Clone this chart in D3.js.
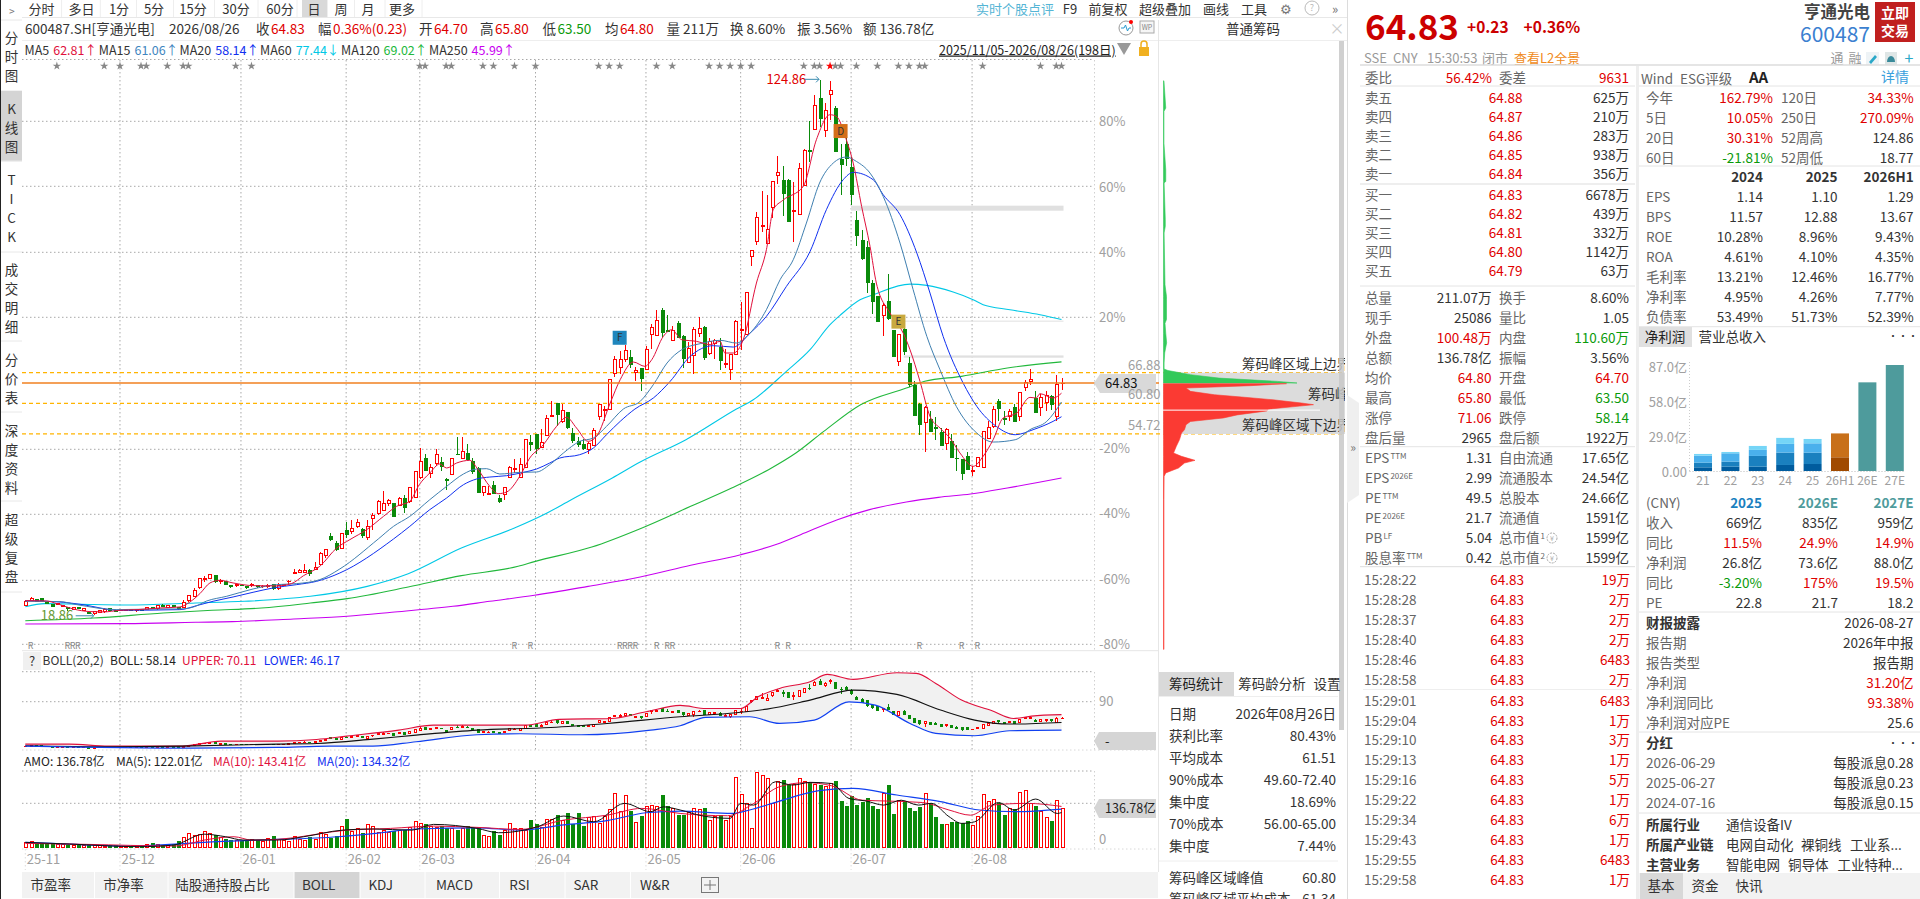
<!DOCTYPE html>
<html>
<head>
<meta charset="utf-8">
<title>600487.SH</title>
<script src="https://cdn.jsdelivr.net/npm/d3@7/dist/d3.min.js"></script>
<style>
  html, body { margin: 0; padding: 0; background: #fff; overflow: hidden; }
  text { font-family: "Noto Sans CJK SC", "Noto Sans", sans-serif; }
</style>
</head>
<body>
<svg id="chart" width="1920" height="899"></svg>
<script>
// daily bars, 2025/11/05 - 2026/08/26
var opens = [
  20.68,21.60,21.87,22.00,21.34,20.81,20.81,20.41,20.35,19.88,20.21,19.62,19.29,19.02,19.29,19.49,20.01,19.75,19.65,19.75,
  19.95,19.75,19.82,19.88,20.28,20.01,20.74,20.35,20.68,20.28,20.21,21.67,22.46,24.18,25.83,26.03,26.62,25.50,25.50,24.71,
  24.64,24.71,24.38,24.64,24.71,24.38,24.51,24.77,24.05,24.77,25.37,27.09,27.22,27.29,27.68,27.82,28.81,30.59,34.30,32.97,
  32.10,35.54,35.28,36.40,35.74,34.09,37.99,38.91,39.57,40.90,40.90,40.56,42.02,41.23,42.22,45.99,49.95,46.98,48.83,49.16,
  45.66,46.71,50.74,49.89,50.94,49.29,47.97,43.14,42.75,44.47,41.89,42.81,46.12,47.70,46.12,48.17,53.12,54.58,52.00,54.51,
  58.15,60.73,57.16,59.07,54.91,53.32,52.66,51.60,52.53,58.21,59.47,59.67,66.81,68.00,69.58,69.85,66.94,67.67,67.60,74.48,
  74.28,79.17,75.34,73.35,76.72,74.08,68.92,70.31,74.67,75.86,70.71,72.63,71.90,68.46,67.60,70.44,75.27,74.54,89.94,92.92,
  95.89,92.52,99.66,106.01,104.95,104.95,98.87,98.21,104.02,110.90,115.13,121.21,115.00,122.07,119.36,109.11,112.09,107.65,97.01,93.05,
  91.66,84.65,82.01,78.24,80.95,75.20,69.12,75.53,68.65,64.36,60.52,57.02,57.55,56.10,55.04,52.86,53.25,49.95,49.62,50.28,
  47.37,48.30,48.16,53.91,56.23,61.12,57.88,58.28,60.06,58.21,64.03,65.08,61.85,60.00,60.99,62.18,58.21,64.70];
var highs = [
  21.87,22.40,22.06,22.26,21.47,20.87,21.20,20.81,20.41,20.28,20.35,20.15,19.42,19.50,19.88,20.15,20.08,19.82,19.88,19.95,
  20.01,19.95,19.88,20.41,20.48,20.68,20.94,20.87,20.74,20.41,21.87,22.86,24.18,26.03,26.49,26.96,26.82,25.96,25.63,24.84,
  25.04,24.84,24.51,25.17,24.84,24.71,24.91,24.91,25.17,25.04,25.77,28.01,28.01,29.00,28.01,29.27,31.25,31.78,35.10,33.43,
  35.00,37.19,37.72,37.85,36.07,37.72,39.05,41.56,43.41,41.89,41.03,42.22,42.68,44.20,47.31,51.93,50.81,48.76,51.74,50.22,
  45.99,49.95,54.18,54.12,52.79,49.95,48.17,44.40,44.33,45.32,42.68,44.20,48.43,49.75,49.95,53.79,54.58,54.71,55.77,58.48,
  61.32,60.73,60.73,59.07,55.83,54.12,53.72,53.19,55.90,60.73,60.33,65.62,70.25,71.17,72.43,71.44,68.00,67.80,72.23,76.59,
  79.37,79.70,78.38,76.06,77.05,74.41,72.89,75.93,77.91,76.06,73.75,73.62,73.75,71.57,70.44,77.38,80.82,82.87,91.20,98.73,
  102.97,102.17,104.88,109.91,107.92,105.35,104.68,108.45,111.23,116.71,122.00,124.86,120.35,124.78,119.82,112.29,113.74,109.64,98.86,95.09,
  92.91,85.31,82.14,80.68,86.50,75.40,74.40,77.38,69.98,65.15,60.85,60.33,59.33,58.08,55.90,55.90,54.77,52.59,49.75,51.07,
  48.43,50.15,55.17,57.22,60.33,61.65,59.20,59.66,60.66,63.04,65.48,67.66,63.30,62.71,63.17,62.51,66.47,65.80];
var lows = [
  20.60,21.53,21.47,21.53,20.94,20.35,20.74,20.35,19.55,19.75,19.95,19.55,18.95,18.86,19.16,19.22,19.49,19.49,19.55,19.60,
  19.62,19.42,19.68,19.82,19.95,19.88,20.35,20.28,20.35,19.88,20.15,21.40,22.39,23.98,25.44,25.96,25.17,25.04,24.71,24.25,
  24.31,24.51,24.05,24.38,24.25,24.11,24.25,23.72,23.85,24.51,25.04,26.96,27.09,27.29,26.49,27.68,28.68,30.13,33.50,31.45,
  32.00,34.09,34.95,36.07,34.09,33.76,35.74,38.71,39.38,40.37,38.38,40.37,39.05,41.03,42.02,45.85,47.31,45.99,48.30,47.31,
  43.54,46.65,50.61,49.75,49.49,46.78,43.01,42.35,42.75,42.75,41.03,41.56,45.99,46.98,45.99,47.97,51.27,50.81,51.93,54.25,
  58.08,56.36,56.89,55.70,52.93,52.13,51.60,50.81,52.46,57.42,57.22,59.54,65.95,66.67,68.92,67.73,65.29,63.17,67.47,71.57,
  74.21,73.88,74.94,73.29,73.68,67.80,68.79,66.61,73.88,69.32,70.44,69.58,67.47,67.80,65.49,70.44,71.44,74.41,88.09,92.26,
  94.77,92.39,97.61,104.35,97.88,96.82,92.85,98.07,103.82,108.72,115.06,115.59,113.54,117.05,110.70,102.17,107.92,100.18,92.05,89.28,
  82.67,78.57,76.85,74.07,77.38,69.98,68.26,70.44,64.03,58.34,54.57,51.07,55.17,53.58,52.39,51.47,49.95,47.30,45.65,47.63,
  46.31,48.30,48.10,53.78,55.90,57.22,56.56,57.22,57.09,57.35,63.17,64.49,58.87,58.21,59.20,59.53,57.22,63.50];
var closes = [
  21.40,22.06,21.53,21.60,21.00,20.48,21.07,20.68,20.08,20.21,20.08,20.01,19.05,19.42,19.75,19.88,19.75,19.55,19.75,19.82,
  19.68,19.85,19.75,20.35,20.08,20.61,20.48,20.74,20.41,20.01,21.20,22.59,23.65,25.96,25.96,26.82,25.44,25.63,24.77,24.51,
  24.77,24.64,24.25,24.84,24.51,24.51,24.64,24.05,24.64,24.84,25.50,27.15,27.68,27.68,26.96,28.21,30.99,31.71,33.80,31.78,
  34.90,34.75,36.07,37.26,34.55,36.40,38.52,41.42,40.90,41.56,38.38,42.02,40.10,44.20,47.31,49.36,47.44,48.10,50.74,48.30,
  45.52,49.82,50.68,51.27,49.62,47.31,43.14,44.40,43.01,42.94,41.36,44.20,48.03,47.84,48.76,53.72,52.66,51.93,53.12,57.88,
  58.48,58.54,59.34,55.97,53.45,52.66,51.80,52.93,55.50,60.66,59.67,65.62,69.45,69.45,71.24,68.40,67.27,65.82,71.57,75.80,
  77.19,74.81,75.07,75.34,73.82,69.72,71.70,75.40,75.60,69.85,73.09,73.35,69.32,68.66,70.44,76.99,75.40,82.87,91.20,97.74,
  96.09,95.36,104.88,106.67,102.37,96.88,99.13,107.33,110.90,110.77,119.95,117.31,118.90,122.93,110.77,108.19,109.38,102.17,94.04,89.48,
  84.72,81.02,77.05,80.16,77.58,70.04,74.40,71.10,64.49,58.34,56.56,59.93,55.24,55.83,52.46,55.63,50.01,49.88,46.97,47.63,
  47.57,50.15,55.17,56.10,59.53,59.80,57.68,59.20,57.22,63.04,65.02,65.48,59.00,61.98,62.31,60.52,64.60,64.83];
// turnover in 100M CNY
var amounts = [
  18.5,20.8,15,15,12.7,12.7,11.6,11.6,9.3,9.3,12.7,9.3,6.9,9.3,6.9,5.8,9.3,6.9,5.8,3.5,
  3.5,9.3,5.8,10.4,15,12.7,6.9,6.9,12.7,23,36,50,44,46,55.5,50,44,36,29,26.6,
  26.6,23,20.8,30,24,23,32.4,38,29,26.6,20.8,38,29,26.6,37,30,54,47,32.4,38,
  73,99.5,55.5,65,50,79,75,52,61,52,55.5,59,61,69,90,84.5,82,75,69,73,
  67,67,61,67,73,67,69,42,40.5,55.5,44,59,84.5,67,67,61,96,79,70.6,98,
  98,113,96,119,82,119,73,104,108,84.5,110,134,189,125,183,125,87,108,142,146,
  142,183,142,136.5,111,113,123,136.5,131,136.5,96,108,113,96,108,244,186,154,65,261,
  252,241,154,229,235,217.5,221,241,229,226,221,217.5,212,223,231,162,142,179,148,157,
  171,142,131,189,217.5,117,165,160,136.5,127,139,189,154,105,79,82,89,87,84.5,90,
  76,108,186,162,168,154,113,136.5,131,192,197,154,142,125,104,92.5,165,136.78];

// moving averages read at sample bars
var ma5Idx = [0,4,6,9.1,12.3,14.8,18,21.2,25.6,29.4,31.3,33.2,35.1,37,39.5,43.3,47.8,50.6,52.9,56,59.2,61.7,64.9,68.1,70.6,73.1,74.9,76.9,78.8,80.1,82,84.5,86.1,88.3,89.9,91.5,94,95.9,98.5,101,102.9,104.8,107,108.6,111.2,113.1,115.6,117.8,119.1,121.3,122.9,124.8,127.6,130.2,132.1,133,134.6,136.5,139,140.9,142.2,144,147.9,150.4,153,154.2,156.1,157.4,159,160.6,161.8,164.4,166.9,168.2,170.1,172,173.9,175.8,177.7,180.2,182.1,184,185.9,188.5,191,192.2,192.9,195.4,197];
var ma5 = [21.67,21.6,21.07,20.01,19.49,19.42,19.75,19.88,20.21,20.41,21.4,23.06,25.17,25.7,25.17,24.64,24.58,25.04,26.62,28.48,32.11,33.76,35.74,38.38,40.37,41.36,44.66,46.98,48.76,47.97,48.96,49.49,47.64,44.33,42.88,43.21,46.32,49.95,52.6,56.23,58.02,55.9,53.26,54.25,60.86,65.49,68.99,68.13,69.45,74.08,75.4,73.42,73.09,72.43,73.09,70.78,70.78,73.42,84.66,91.27,99.2,101.05,103.82,113.08,118.04,117.71,113.07,108.45,99.85,91.92,84.65,78.7,74.73,71.43,65.15,58.21,55.9,53.91,50.94,48.3,50.28,53.58,57.88,58.87,61.98,61.85,62.71,61.85,62.81];
var ma15Idx = [0,6.6,9.8,17.4,25.6,29.4,32,34.5,38.3,43.3,47.8,51.6,56,59.8,67.1,70,73.1,76.9,80.1,83.3,85.8,87.7,90.2,94,97.2,99.7,102.3,105.4,108,110.5,113.7,116.9,119.4,122,124.8,128.3,132.1,135.2,137.8,140.9,143.5,146,148.5,151,153.6,156.1,158,160.6,163.1,166.3,168.8,171.4,173.9,177,180.9,184,188.2,191,194.2,197];
var ma15 = [21.54,21.47,20.87,19.88,20.01,20.01,20.41,21.6,22.53,23.98,24.84,25.04,25.83,27.95,33.89,36.4,38.38,41.69,44.33,46.78,47.77,47.84,46.78,47.11,47.18,48.63,50.94,53.26,53.92,56.23,59.67,61.19,64.5,68.79,71.44,72.63,73.29,72.76,74.74,79.37,85.32,89.28,96.55,104.49,108.45,109.64,108.78,106.46,101.84,92.58,83.33,74.07,67.46,60.19,54.9,53.12,53.58,55.57,57.22,61.06];
var ma20Idx = [0,7.2,10.4,18,29.4,32.6,35.7,39.5,43.3,47.1,51.6,55.4,59.8,70,73.1,76.9,80.1,83.3,85.8,88.3,91.5,94.7,97.2,99.7,101.6,105.4,108,110.5,113.1,115.9,119.4,122.6,126.4,130.8,134.6,137.8,140.9,144.7,149.2,152.3,155.5,157.4,161.2,163.1,166.3,169.5,172,174.5,178.3,180.9,184.6,188.2,191.6,195.4,197];
var ma20 = [21.67,21.34,20.94,19.75,19.88,20.68,21.54,22.39,23.32,24.18,24.84,25.5,27.15,33.89,36.4,39.71,42.02,44.66,45.79,46.18,46.45,47.11,47.77,48.96,49.95,50.61,51.93,54.58,57.22,59.67,61.85,65.16,70.11,72.23,71.96,74.74,78.05,83.99,90.93,99.2,105.15,106.6,105.14,102.17,98.2,90.6,82.67,74.07,64.82,60.19,56.23,54.57,55.57,57.22,58.14];
var ma60Idx = [0,3.7,10.7,19.2,32.4,41.7,54.2,65,72.8,82.9,93,99.2,103.8,111.6,116.9,125.6,135.2,138.4,144.7,149.2,153,154.9,158.7,161.2,168.2,171.4,176.4,180.2,182.1,187.2,192.9,197];
var ma60 = [20.47,21.07,20.93,20.8,21.2,21.53,22.52,24.5,27,32.1,36.07,39.05,41.69,46,49.16,53.59,59.67,61.52,67.14,71.44,76.39,78.24,81.35,82.34,84.45,84.19,82.87,81.35,80.35,79.36,78.37,77.44];
var ma120Idx = [0,13,26.2,35.5,44.9,54.2,61.2,72.8,82.9,93.7,96.8,107.7,116.9,126.5,134.3,141.3,146.5,151.8,158.8,167.5,171,178,186.7,197];
var ma120 = [17.69,18.22,19.22,19.75,20.21,21.2,22.06,24.37,26.62,28.47,29.4,32.3,35.94,40.37,44,47.64,50.94,55.24,60.53,63.83,65.16,66.15,67.8,69.02];
var ma250Idx = [0,19.2,32.4,39.4,51,61.2,69.7,81.3,88.3,96.8,107,116.9,126.5,136,143,147.4,154.4,160.5,167.5,173.6,179.7,186.7,197];
var ma250 = [17.03,17.1,17.37,17.5,18.03,18.56,19.35,20.54,21.53,22.72,24.5,26.35,28.67,30.78,32.9,34.75,37.72,39.71,41.23,42.15,42.81,44,45.99];

// BOLL(20,2)
var upperIdx = [0,8.4,15.8,29.8,37.2,48,55.4,61.1,71,77.6,89.2,95,101.5,111.4,118,124.5,129.4,136,139.3,143.4,149.2,152.5,157.4,165.7,169.4,173.1,178,183.8,187.9,191.3,197];
var upper = [24.7,24.7,21.6,21.6,29.3,29.3,31.9,37.05,46.3,54,54,54,62.8,64.3,74.6,84.4,79.7,79.7,97.8,110.6,120.9,132.2,124.5,134.8,133.8,118.3,92.6,76.1,64.3,67.9,70.11];
var midIdx = [0,15.8,29.8,48,55.4,66.1,74.3,85.9,99.9,110.6,124.5,135.2,141,149.2,157.4,165.7,174,180.5,187.1,197];
var mid = [22.1,20.6,21.6,24.7,25.7,32.4,38.6,46.3,50.4,56.6,66.9,73.1,78.7,92.6,108,101.4,77.2,61.7,55.6,58.14];
var lowerIdx = [0,31.5,48,57.8,66.1,74.3,85.9,94.1,105.7,118.9,124.5,129.4,137.7,143.4,150,156.6,161.6,168.2,173.1,180.5,187.1,197];
var lower = [21.6,18.5,19.6,21.6,21.6,28.3,39.1,40.7,39.1,46.3,53,65.9,66.9,56.6,61.7,90,84.9,56.6,41.2,37.6,45.3,46.17];

// AMO moving averages
var amoMa5Idx = [0,8.4,21.6,28.2,34,38.1,41.4,48,52.9,60.3,66.1,73.5,77.6,85.9,90,97.4,102.4,108.1,113.9,118.9,121.3,124.5,128.6,134,136,138.5,142.6,145.9,149.2,153.3,156.6,159.9,163.2,166.5,169.8,172.3,175.6,178,180.5,185,188,192.1,196.2,197];
var amoMa5 = [18.5,12.7,3.5,9.3,47,38,26.6,26.6,38,61,65,61,81,67,52,73,110,90,154,125,142,131,111,102,154,148,229,217.5,227,223,171,162,148,165,148,154,108,84.5,90,157,131,169,119,122.01];
var amoMa10Idx = [0,11.7,28.2,34.8,39.7,43,48,61.1,69.4,77.6,85.9,94.1,102.4,110.6,117.2,124.5,133.5,138.5,143.4,148.4,153.3,159.1,164,170.6,175.6,179.7,183.8,190.4,197];
var amoMa10 = [15,11.6,5.8,29,38,26.6,29,61,67,75,70.6,63.6,96,113,136.5,119,111,154,212,226,215,165,162,157,131,113,148,154,143.41];
var amoMa20Idx = [0,5.1,20,30.6,36.4,44.6,59.5,67.7,74.3,85.9,94.1,102.4,110.6,118,124.5,134.4,137.7,143.4,150.9,157.4,165.7,174,181.4,187.9,197];
var amoMa20 = [18.5,15,5.8,15,20.8,26.6,38,52,65,69,61,79,94,121.5,127,119,131,162,198,206,183,160,131,125,134.32];

// chip distribution: price level and relative weight
var chipUpPrices = [124.76,119.35,118.7,112.4,107.1,104.8,104.5,97.2,95.9,94.6,84.3,82,81.35,77.4,76.7,74.7,72.8,70.8,68.8,67.6,67.3,67,66.48,65.8,65.15,64.83];
var chipUpVals = [0.3,1.5,0.3,0.3,1.5,1.5,0.4,1.2,1.2,0.4,1,2,2,2,1,1.5,2.1,0.8,0.4,0.4,3,8.5,18,37,76,89];
var chipDownPrices = [64.7,64.3,63.83,63.17,62.5,62.05,61.5,60.86,60.53,60.2,59.74,59.6,59.3,58.5,57.9,57.2,56.56,55.57,54.9,53.6,52.26,50.94,50.28,49.49,48.96,47.97,47,46.3,41.7,23.8,12];
var chipDownVals = [82,58,15,18,34,52,73,92,100,89,73,70,69,49,40,18,15,14,12,10.7,8.5,6.7,12,21,14,10,1.5,0.4,0.3,0.3,0.3];

var monthIdx = [0,18,41,61,75,97,118,136,157,180];
var monthLabels = ['25-11','25-12','26-01','26-02','26-03','26-04','26-05','26-06','26-07','26-08'];
var pctTicks = [80,60,40,20,-20,-40,-60,-80];
var starIdx = [6,15,18,22,23,27,30,31,40,43,75,76,80,81,87,89,93,97,109,111,113,120,123,130,132,134,136,138,148,150,151,153,154,155,158,162,166,168,170,171,182,193,196,197];
var rIdx = [1,8,9,10,93,96,113,114,115,116,120,122,123,143,145,170,178,181];
var markLabels = ['F','D','E'];
var markIdx = [113,155,166];
var markPrices = [73.8,114.8,77];
var gapIdx = [157,167,167];
var gapTop = [100,77.2,70.3];
var gapBottom = [99,77,69.85];

var lastPrice = 64.83;
var chipPeaks = [66.88,60.80,54.72];
var chipPeakNames = ['筹码峰区域上边界','筹码峰区域峰值','筹码峰区域下边界'];

// top bar and side bar
var periodTabs = ['分时','多日','1分','5分','15分','30分','60分','日','周','月','更多'];
var toolTabs = ['实时个股点评','F9','前复权','超级叠加','画线','工具'];
var sideGroups = ['分时图','K线图','TICK','成交明细','分价表','深度资料','超级复盘'];
var bottomTabs = ['市盈率','市净率','陆股通持股占比','BOLL','KDJ','MACD','RSI','SAR','W&R'];
var quoteHead = [['600487.SH[亨通光电]',''],['2026/08/26',''],['收','64.83'],['幅','0.36%(0.23)'],['开','64.70'],['高','65.80'],['低','63.50'],['均','64.80'],['量 211万',''],['换 8.60%',''],['振 3.56%',''],['额 136.78亿','']];
var maHead = [['MA5','62.81↑'],['MA15','61.06↑'],['MA20','58.14↑'],['MA60','77.44↓'],['MA120','69.02↑'],['MA250','45.99↑']];

// chip stats
var chipStatLabels = ['日期','获利比率','平均成本','90%成本','集中度','70%成本','集中度'];
var chipStatValues = ['2026年08月26日','80.43%','61.51','49.60-72.40','18.69%','56.00-65.00','7.44%'];

// order book
var askLabels = ['卖五','卖四','卖三','卖二','卖一'];
var askPrices = ['64.88','64.87','64.86','64.85','64.84'];
var askVols = ['625万','210万','283万','938万','356万'];
var bidLabels = ['买一','买二','买三','买四','买五'];
var bidPrices = ['64.83','64.82','64.81','64.80','64.79'];
var bidVols = ['6678万','439万','332万','1142万','63万'];

var tradeLeftLabels = ['总量','现手','外盘','总额','均价','最高','涨停','盘后量'];
var tradeLeftValues = ['211.07万','25086','100.48万','136.78亿','64.80','65.80','71.06','2965'];
var tradeRightLabels = ['换手','量比','内盘','振幅','开盘','最低','跌停','盘后额'];
var tradeRightValues = ['8.60%','1.05','110.60万','3.56%','64.70','63.50','58.14','1922万'];

var valLabels = ['EPS','EPS','PE','PE','PB','股息率'];
var valSups = ['TTM','2026E','TTM','2026E','LF','TTM'];
var valValues = ['1.31','2.99','49.5','21.7','5.04','0.42'];
var capLabels = ['自由流通','流通股本','总股本','流通值','总市值','总市值'];
var capSups = ['','','','','1','2'];
var capValues = ['17.65亿','24.54亿','24.66亿','1591亿','1599亿','1599亿'];

var tickTimesA = ['15:28:22','15:28:28','15:28:37','15:28:40','15:28:46','15:28:58'];
var tickVolsA = ['19万','2万','2万','2万','6483','2万'];
var tickTimesB = ['15:29:01','15:29:04','15:29:10','15:29:13','15:29:16','15:29:22','15:29:34','15:29:43','15:29:55','15:29:58'];
var tickVolsB = ['6483','1万','3万','1万','5万','1万','6万','1万','6483','1万'];
var tickPrice = '64.83';

// returns
var retLabels = ['今年','5日','20日','60日'];
var retValues = ['162.79%','10.05%','30.31%','-21.81%'];
var ret2Labels = ['120日','250日','52周高','52周低'];
var ret2Values = ['34.33%','270.09%','124.86','18.77'];

var finYears = ['2024','2025','2026H1'];
var finLabels = ['EPS','BPS','ROE','ROA','毛利率','净利率','负债率'];
var fin2024 = ['1.14','11.57','10.28%','4.61%','13.21%','4.95%','53.49%'];
var fin2025 = ['1.10','12.88','8.96%','4.10%','12.46%','4.26%','51.73%'];
var fin2026 = ['1.29','13.67','9.43%','4.35%','16.77%','7.77%','52.39%'];

// net profit bars, stacked quarters in 100M CNY
var profitCats = ['21','22','23','24','25','26H1','26E','27E'];
var profitTicks = [0,29,58,87];
var profitQ1 = [3.05,3.6,3.6,5,5.8,11.4,73.6,88];
var profitQ2 = [3.9,4.2,8.9,10.3,9.4,19.8,0,0];
var profitQ3 = [5.8,6.9,5,7.2,7.8,0,0,0];
var profitQ4 = [1.4,1.1,3.3,5,3.6,0,0,0];

var fcYears = ['2025','2026E','2027E'];
var fcLabels = ['收入','同比','净利润','同比','PE'];
var fc2025 = ['669亿','11.5%','26.8亿','-3.20%','22.8'];
var fc2026 = ['835亿','24.9%','73.6亿','175%','21.7'];
var fc2027 = ['959亿','14.9%','88.0亿','19.5%','18.2'];

var reportLabels = ['报告期','报告类型','净利润','净利润同比','净利润对应PE'];
var reportValues = ['2026年中报','报告期','31.20亿','93.38%','25.6'];
var divDates = ['2026-06-29','2025-06-27','2024-07-16'];
var divValues = ['每股派息0.28','每股派息0.23','每股派息0.15'];
var industryLabels = ['所属行业','所属产业链','主营业务'];
var industryTags = [['通信设备IV'],['电网自动化','裸铜线','工业系...'],['智能电网','铜导体','工业特种...']];
var infoTabs = ['基本','资金','快讯'];

var RED = '#ff0000', GREEN = '#0a8a0a', TEXT_RED = '#e00000', TEXT_GREEN = '#0a9a0a';
var LABEL = '#666', VALUE = '#333', RULE = '#e4e4e4', GRID = '#a8a8a8';

var svg = d3.select('#chart');
var x = d3.scaleLinear().domain([0, 197]).range([25.3, 1061.5]);
var yPrice = d3.scaleLinear().domain([lastPrice * 0.2, lastPrice * 1.8]).range([644.5, 121.5]);
var yBoll = d3.scaleLinear().domain([15.6, 136.4]).range([750, 671.7]);
var yAmo = d3.scaleLinear().domain([0, 264]).range([847.7, 771.7]);

function txt(g, px, py, s, o) {
  o = o || {};
  return g.append('text')
    .attr('x', px).attr('y', py).attr('dy', '0.36em')
    .attr('text-anchor', o.anchor || 'start')
    .attr('font-size', o.size || 13.5)
    .attr('font-weight', o.weight || 'normal')
    .attr('fill', o.fill || VALUE)
    .text(s);
}

function rule(g, x1, x2, y1, y2, color, dash, w) {
  var l = g.append('line').attr('x1', x1).attr('x2', x2).attr('y1', y1).attr('y2', y2)
    .attr('stroke', color || RULE).attr('stroke-width', w || 1);
  if (dash) l.attr('stroke-dasharray', dash);
  return l;
}

function column(g, vals, px, y0, dy, o) {
  vals.forEach(function(v, i) {
    var fill = typeof o.fill === 'function' ? o.fill(v, i) : o.fill;
    txt(g, px, y0 + i * dy, v, {anchor: o.anchor, fill: fill, size: o.size, weight: o.weight});
  });
}

function signColor(v) {
  return v.charAt(0) === '-' ? TEXT_GREEN : TEXT_RED;
}

function seriesLine(g, idx, vals, yScale, color, w, curve) {
  var line = d3.line()
    .x(function(d, i) { return x(idx[i]); })
    .y(function(d) { return yScale(d); })
    .curve(curve || d3.curveMonotoneX);
  g.append('path').datum(vals).attr('d', line)
    .attr('fill', 'none').attr('stroke', color).attr('stroke-width', w || 1);
}

function drawCandles(g, yScale, bodyWidth) {
  var cols = d3.range(opens.length);
  g.selectAll('line.wick').data(cols).enter().append('line')
    .attr('class', 'wick')
    .attr('shape-rendering', 'crispEdges')
    .attr('x1', function(i) { return Math.round(x(i)) + 0.5; })
    .attr('x2', function(i) { return Math.round(x(i)) + 0.5; })
    .attr('y1', function(i) { return yScale(highs[i]); })
    .attr('y2', function(i) { return yScale(lows[i]); })
    .attr('stroke', function(i) { return closes[i] >= opens[i] ? RED : GREEN; });
  g.selectAll('rect.body').data(cols).enter().append('rect')
    .attr('class', 'body')
    .attr('shape-rendering', 'crispEdges')
    .attr('x', function(i) { return Math.round(x(i)) - 0.5; })
    .attr('width', bodyWidth)
    .attr('y', function(i) { return yScale(Math.max(opens[i], closes[i])); })
    .attr('height', function(i) { return Math.max(0.6, Math.abs(yScale(opens[i]) - yScale(closes[i]))); })
    .attr('fill', function(i) { return closes[i] >= opens[i] ? '#fff' : GREEN; })
    .attr('stroke', function(i) { return closes[i] >= opens[i] ? RED : GREEN; });
}

function drawFrame() {
  svg.append('rect').attr('width', 1920).attr('height', 899).attr('fill', '#fff');
  rule(svg, 0.5, 0.5, 0, 899, '#222');
  rule(svg, 1347.5, 1347.5, 0, 899, '#dcdcdc');
  rule(svg, 22, 1347, 17.5, 17.5, '#e8e8e8');
  rule(svg, 22, 1347, 40.5, 40.5, '#eee');
  rule(svg, 1158.5, 1158.5, 20, 872, '#e6e6e6');
}

function drawTopBar() {
  var g = svg.append('g');
  var centers = [41.6,81.6,119,154,193,236,280,314,341,368,402];
  var TAB_Y = 9.6;
  txt(g, 12, TAB_Y, '﹥', {anchor: 'middle', size: 13, fill: '#777'});
  g.append('rect').attr('x', 302).attr('y', 0).attr('width', 26).attr('height', 17).attr('fill', '#d9d9d9');
  periodTabs.forEach(function(t, i) {
    txt(g, centers[i], TAB_Y, t, {anchor: 'middle', size: 13, fill: '#333'});
    var edge = i < periodTabs.length - 1 ? (centers[i] + centers[i + 1]) / 2 : 422;
    rule(g, edge, edge, 0, 17, '#eee');
  });
  var toolX = [1015,1070,1108,1165,1216,1254];
  toolTabs.forEach(function(t, i) {
    txt(g, toolX[i], TAB_Y, t, {anchor: 'middle', size: 13, fill: i === 0 ? '#55b5d5' : '#333'});
  });
  txt(g, 1286, TAB_Y, '⚙', {anchor: 'middle', size: 13, fill: '#777'});
  g.append('circle').attr('cx', 1312).attr('cy', 8).attr('r', 7).attr('fill', 'none').attr('stroke', '#bbb');
  txt(g, 1312, 8, '?', {anchor: 'middle', size: 9, fill: '#bbb'});
  txt(g, 1335, TAB_Y, '»', {anchor: 'middle', size: 13, fill: '#777'});

  var headX = [25,169,256,318,419,480,542.6,605,666.6,730,797,863];
  quoteHead.forEach(function(h, i) {
    var t = txt(g, headX[i], 29, h[0], {size: 13.5, fill: '#333'});
    if (h[1]) {
      var up = h[0] !== '低';
      t.append('tspan').attr('dx', 1.5).attr('fill', up ? TEXT_RED : TEXT_GREEN).text(h[1]);
    }
  });
  var maX = [24.5,98.8,179.6,260,341,429];
  var maColors = ['#e0103c','#3f86c0','#1030f0','#00c8e6','#22b83c','#c800f0'];
  maHead.forEach(function(h, i) {
    var t = txt(g, maX[i], 50, h[0], {size: 12.5, fill: '#333'});
    t.append('tspan').attr('dx', 4).attr('fill', maColors[i]).text(h[1]);
  });
  txt(g, 939, 50, '2025/11/05-2026/08/26(198日)', {size: 12.5, fill: '#222'})
    .attr('text-decoration', 'underline');
  g.append('path').attr('d', 'M1117,43h14l-7,12z').attr('fill', '#999');
  g.append('rect').attr('x', 1139).attr('y', 47).attr('width', 10).attr('height', 9).attr('fill', '#f0b020');
  g.append('path').attr('d', 'M1141,47v-3a3,3 0 0 1 6,0v3').attr('fill', 'none').attr('stroke', '#f0b020').attr('stroke-width', 1.5);
  g.append('circle').attr('cx', 1126).attr('cy', 28).attr('r', 7).attr('fill', '#fff').attr('stroke', '#999');
  g.append('circle').attr('cx', 1131).attr('cy', 22).attr('r', 2).attr('fill', '#f00');
  g.append('path').attr('d', 'M1121,28h3l1.5,-3l2,6l1.5,-3h2').attr('fill', 'none').attr('stroke', '#2a9ad0');
  g.append('rect').attr('x', 1140).attr('y', 21).attr('width', 14).attr('height', 12).attr('fill', '#f6f6f6').attr('stroke', '#aaa');
  txt(g, 1147, 27, 'WP', {anchor: 'middle', size: 7, fill: '#888'});
  txt(g, 1253, 29, '普通筹码', {anchor: 'middle', size: 13.5, fill: '#333'});
  txt(g, 1337, 29, '×', {anchor: 'middle', size: 15, fill: '#ccc'});
}

function drawSideBar() {
  var g = svg.append('g');
  g.append('rect').attr('x', 1).attr('y', 90.7).attr('width', 21).attr('height', 70.5).attr('fill', '#d4d4d4');
  var firstY = [37.7,109,180,270,360,431,520];
  sideGroups.forEach(function(name, k) {
    name.split('').forEach(function(c, i) {
      txt(g, 11.5, firstY[k] + i * 19, c, {anchor: 'middle', size: 13.5, fill: '#333'});
    });
  });
  [20,161,252,341,412,501,592].forEach(function(yy) { rule(g, 1, 22, yy, yy, '#e8e8e8'); });
}

function drawGrid() {
  var g = svg.append('g');
  var dash = '1.5,2.5';
  var hPanels = [[59.5,121.3,186.3,252.3,317.3,449.3,514.3,580.3,644.3],[671.7,701.7],[771,803.3]];
  hPanels.forEach(function(ys) {
    ys.forEach(function(yy) { rule(g, 22, 1094, yy, yy, GRID, dash); });
  });
  rule(g, 22, 1158, 650.7, 650.7, '#e6e6e6');
  rule(g, 22, 1158, 750, 750, '#d8d8d8', dash);
  rule(g, 22, 1158, 849, 849, '#d8d8d8', dash);
  var spans = [[60,650],[672,750],[771,849]];
  monthIdx.slice(1).forEach(function(m) {
    spans.forEach(function(s) { rule(g, x(m), x(m), s[0], s[1], GRID, dash); });
  });
  spans.forEach(function(s) { rule(g, 1094.5, 1094.5, s[0], s[1], '#d0d0d0', dash); });

  pctTicks.forEach(function(p) {
    txt(g, 1099, yPrice(lastPrice * (1 + p / 100)), p + '%', {size: 13, fill: '#a0a0a0'});
  });

  starIdx.forEach(function(i) {
    var star = d3.symbol().type(d3.symbolStar).size(22);
    g.append('path').attr('d', star())
      .attr('transform', 'translate(' + x(i) + ',66)')
      .attr('fill', i === 153 ? RED : '#888');
  });
  rIdx.forEach(function(i) {
    txt(g, x(i), 645.5, 'R', {anchor: 'middle', size: 9, fill: '#888'});
  });

  // month axis
  var axis = d3.axisBottom(x).tickValues(monthIdx).tickSize(0).tickFormat('');
  var ag = g.append('g').attr('transform', 'translate(0,849)').call(axis);
  ag.select('.domain').remove();
  monthIdx.forEach(function(m, i) {
    txt(g, x(m) + 1.5, 859, monthLabels[i], {size: 13, fill: '#a0a0a0'});
    rule(g, x(m), x(m), 849, 870, '#ddd', '1.5,2.5');
  });
}

function drawMain() {
  var g = svg.append('g');
  chipPeaks.forEach(function(p) {
    rule(g, 22, 1345, yPrice(p), yPrice(p), '#ffb400', '4,3', 1.2);
  });

  // gap bands
  gapIdx.forEach(function(i, k) {
    g.append('rect').attr('x', x(i)).attr('width', x(197) + 2 - x(i))
      .attr('y', yPrice(gapTop[k]))
      .attr('height', yPrice(gapBottom[k]) - yPrice(gapTop[k]))
      .attr('fill', '#e0e0e0');
  });

  seriesLine(g, ma250Idx, ma250, yPrice, '#c800f0', 1.1);
  seriesLine(g, ma120Idx, ma120, yPrice, '#22b83c', 1.1);
  seriesLine(g, ma60Idx, ma60, yPrice, '#00c8e6', 1.1);
  drawCandles(g, yPrice, 3);
  seriesLine(g, ma20Idx, ma20, yPrice, '#1030f0', 1);
  seriesLine(g, ma15Idx, ma15, yPrice, '#3f7fb0', 1);
  seriesLine(g, ma5Idx, ma5, yPrice, '#e0103c', 1);

  rule(g, 22, 1159, yPrice(lastPrice), yPrice(lastPrice), '#f08020', '', 1.3);

  // high and low notes
  var hi = d3.max(highs), lo = d3.min(lows);
  var hiI = highs.indexOf(hi), loI = lows.indexOf(lo);
  txt(g, x(hiI) - 53, yPrice(hi) - 1, hi.toFixed(2), {size: 13, fill: '#e00000'});
  g.append('path').attr('d', 'M' + (x(hiI) - 15) + ',' + (yPrice(hi) - 1) + 'H' + (x(hiI) - 0.5) + 'm-3,-3l3,3l-3,3')
    .attr('fill', 'none').attr('stroke', '#3a8cb0');
  txt(g, x(loI) - 53, yPrice(lo) + 1, lo.toFixed(2), {size: 13, fill: '#669933'});
  g.append('path').attr('d', 'M' + (x(loI) - 18) + ',' + (yPrice(lo) + 1) + 'H' + x(loI) + 'm-3,-3l3,3l-3,3')
    .attr('fill', 'none').attr('stroke', '#3a8cb0');

  // event marks
  var markFill = ['#1f86bd','#d46f18','#c9a93f'];
  markLabels.forEach(function(m, k) {
    var cx = x(markIdx[k]), cy = yPrice(markPrices[k]);
    g.append('rect').attr('x', cx - 7).attr('y', cy - 7).attr('width', 14).attr('height', 14).attr('fill', markFill[k]);
    txt(g, cx, cy, m, {anchor: 'middle', size: 10, fill: '#333'});
  });

  // price tag
  var yl = yPrice(lastPrice);
  g.append('polygon').attr('points', [[1094,yl],[1100,yl - 9],[1156,yl - 9],[1156,yl + 10],[1100,yl + 10]].join(' ')).attr('fill', '#d9d9d9');
  txt(g, 1105, yl, lastPrice.toFixed(2), {size: 13, fill: '#111'});
  chipPeaks.forEach(function(p, k) {
    txt(g, 1128, [365,394.5,425.6][k], p.toFixed(2), {size: 13, fill: '#a0a0a0'});
  });
}

function drawChips() {
  var g = svg.append('g');
  var chipX = d3.scaleLinear().domain([0, 100]).range([1163.5, 1313.5]);
  svg.append('clipPath').attr('id', 'chip-clip').append('rect').attr('x', 1160).attr('y', 60).attr('width', 185).attr('height', 600);
  var inner = g.append('g').attr('clip-path', 'url(#chip-clip)');
  inner.append('rect').attr('x', 1163).attr('width', 182)
    .attr('y', yPrice(chipPeaks[0])).attr('height', yPrice(chipPeaks[2]) - yPrice(chipPeaks[0]))
    .attr('fill', '#dcdcdc');
  var area = d3.area().y(function(d) { return yPrice(d[0]); })
    .x0(chipX(0)).x1(function(d) { return chipX(d[1]); });
  inner.append('path').datum(d3.zip(chipUpPrices, chipUpVals)).attr('d', area).attr('fill', '#33c95a').attr('stroke', '#33c95a').attr('stroke-width', 0.6);
  inner.append('path').datum(d3.zip(chipDownPrices, chipDownVals)).attr('d', area).attr('fill', '#fb3a33').attr('stroke', '#fb3a33').attr('stroke-width', 0.6);
  rule(inner, 1163, 1320, yPrice(59.45), yPrice(59.45), '#fff');
  chipPeakNames.forEach(function(n, k) {
    txt(inner, [1242,1308,1242][k], [364,394,425][k], n, {size: 13.5, fill: '#333'});
  });
  g.append('rect').attr('x', 1339).attr('y', 41).attr('width', 5).attr('height', 689).attr('fill', '#c8c8c8').attr('fill-opacity', 0.85);
  g.append('path').attr('d', 'M1347,395l12,8v92l-12,8z').attr('fill', '#efefef');
  txt(g, 1353, 448, '»', {anchor: 'middle', size: 12, fill: '#777'});

  // stats
  var st = svg.append('g');
  st.append('rect').attr('x', 1159).attr('y', 672).attr('width', 75).attr('height', 24).attr('fill', '#d9d9d9');
  txt(st, 1196, 684, '筹码统计', {anchor: 'middle', size: 13.5, fill: '#222'});
  txt(st, 1272, 684, '筹码龄分析', {anchor: 'middle', size: 13.5, fill: '#333'});
  txt(st, 1327, 684, '设置', {anchor: 'middle', size: 13.5, fill: '#333'});
  rule(st, 1159, 1338, 696.5, 696.5, '#eee');
  column(st, chipStatLabels, 1169, 714, 22, {fill: '#333', size: 13.5});
  column(st, chipStatValues, 1336, 714, 22, {anchor: 'end', fill: '#333', size: 13.5});
  rule(st, 1159, 1338, 861, 861, '#eee');
  txt(st, 1169, 878, '筹码峰区域峰值', {size: 13.5});
  txt(st, 1336, 878, '60.80', {anchor: 'end', size: 13.5});
  txt(st, 1169, 899, '筹码峰区域平均成本', {size: 13.5});
  txt(st, 1336, 899, '61.34', {anchor: 'end', size: 13.5});
}

function drawBoll() {
  var g = svg.append('g');
  g.append('rect').attr('x', 23).attr('y', 652).attr('width', 18).attr('height', 18).attr('fill', '#f0f0f0');
  txt(g, 32, 661, '?', {anchor: 'middle', size: 13});
  txt(g, 42.5, 660.7, 'BOLL(20,2)', {size: 12, fill: '#333'});
  txt(g, 110, 660.7, 'BOLL: 58.14', {size: 12, fill: '#222'});
  txt(g, 182, 660.7, 'UPPER: 70.11', {size: 12, fill: '#e0103c'});
  txt(g, 263.7, 660.7, 'LOWER: 46.17', {size: 12, fill: '#1030f0'});

  // band between upper and lower
  var band = upperIdx.map(function(v, i) { return [x(v), yBoll(upper[i])]; })
    .concat(lowerIdx.map(function(v, i) { return [x(v), yBoll(lower[i])]; }).reverse());
  g.append('path').attr('d', d3.line().curve(d3.curveLinear)(band) + 'Z').attr('fill', '#f1f1f1');

  drawCandles(g, yBoll, 2);
  seriesLine(g, upperIdx, upper, yBoll, '#e0103c', 1.1);
  seriesLine(g, midIdx, mid, yBoll, '#111', 1.1);
  seriesLine(g, lowerIdx, lower, yBoll, '#1040f0', 1.2);

  txt(g, 1099, yBoll(90), '90', {size: 13, fill: '#a0a0a0'});
  g.append('polygon').attr('points', '1094,741 1099,732 1156,732 1156,750 1099,750').attr('fill', '#d5d5d5');
  txt(g, 1105, 741, '-', {size: 13, fill: '#222'});
}

function drawAmo() {
  var g = svg.append('g');
  txt(g, 24, 761.7, 'AMO: 136.78亿', {size: 12, fill: '#222'});
  txt(g, 116, 761.7, 'MA(5): 122.01亿', {size: 12, fill: '#222'});
  txt(g, 213, 761.7, 'MA(10): 143.41亿', {size: 12, fill: '#e0103c'});
  txt(g, 317, 761.7, 'MA(20): 134.32亿', {size: 12, fill: '#1030f0'});

  g.selectAll('rect.amo').data(amounts).enter().append('rect')
    .attr('class', 'amo')
    .attr('shape-rendering', 'crispEdges')
    .attr('x', function(d, i) { return Math.round(x(i)) - 0.5; })
    .attr('width', 3)
    .attr('y', function(d) { return yAmo(d); })
    .attr('height', function(d) { return yAmo(0) - yAmo(d); })
    .attr('fill', function(d, i) { return closes[i] >= opens[i] ? '#fff' : GREEN; })
    .attr('stroke', function(d, i) { return closes[i] >= opens[i] ? RED : GREEN; });

  seriesLine(g, amoMa20Idx, amoMa20, yAmo, '#1040f0', 1.2);
  seriesLine(g, amoMa10Idx, amoMa10, yAmo, '#e0103c', 1);
  seriesLine(g, amoMa5Idx, amoMa5, yAmo, '#111', 1);

  g.append('polygon').attr('points', '1094,808 1099,799 1156,799 1156,818 1099,818').attr('fill', '#d5d5d5');
  txt(g, 1105, 808.5, '136.78亿', {size: 12.5, fill: '#222'});
  txt(g, 1099, 839, '0', {size: 13, fill: '#a0a0a0'});
}

function drawBottomTabs() {
  var g = svg.append('g');
  g.append('rect').attr('x', 22).attr('y', 872).attr('width', 1136).attr('height', 26).attr('fill', '#f2f2f2');
  g.append('rect').attr('x', 294).attr('y', 872).attr('width', 66).attr('height', 26).attr('fill', '#d4d4d4');
  var centers = [50.7,123.6,222.5,318.7,380.7,454.5,519.5,586,654.8];
  bottomTabs.forEach(function(t, i) {
    txt(g, centers[i], 885, t, {anchor: 'middle', size: 13.5, fill: '#333'});
  });
  [94.5,168,294,360,425,499.5,565,630.5].forEach(function(e) { rule(g, e, e, 872, 898, '#fff'); });
  g.append('rect').attr('x', 701.5).attr('y', 877.5).attr('width', 17).attr('height', 15).attr('fill', 'none').attr('stroke', '#777');
  rule(g, 704, 716, 885, 885, '#777');
  rule(g, 710, 710, 880, 890, '#777');
}

function drawQuotePanel() {
  var g = svg.append('g');
  txt(g, 1365, 27, '64.83', {size: 35, weight: 'bold', fill: '#cc0000'});
  txt(g, 1467, 27, '+0.23', {size: 15.5, weight: 'bold', fill: '#cc0000'});
  txt(g, 1523.6, 27, '+0.36%', {size: 15.5, weight: 'bold', fill: '#cc0000'});
  txt(g, 1870, 12.5, '亨通光电', {anchor: 'end', size: 16.5, weight: 'bold', fill: '#444'});
  txt(g, 1870, 34, '600487', {anchor: 'end', size: 21, fill: '#3b7fd0'});
  g.append('rect').attr('x', 1875).attr('y', 2).attr('width', 40).attr('height', 40).attr('fill', '#c0201f');
  txt(g, 1895, 13, '立即', {anchor: 'middle', size: 14, fill: '#fff', weight: 'bold'});
  txt(g, 1895, 31, '交易', {anchor: 'middle', size: 14, fill: '#fff', weight: 'bold'});
  var grey = {size: 13, fill: '#999'};
  txt(g, 1364, 58.7, 'SSE', grey);
  txt(g, 1393, 58.7, 'CNY', grey);
  txt(g, 1427, 58.7, '15:30:53', grey);
  txt(g, 1482, 58.7, '闭市', grey);
  txt(g, 1514, 58.7, '查看L2全景', {size: 13, fill: '#f08a20'});
  txt(g, 1837, 58.7, '通', {anchor: 'middle', size: 13, fill: '#999'});
  txt(g, 1855, 58.7, '融', {anchor: 'middle', size: 13, fill: '#999'});
  g.append('rect').attr('x', 1866).attr('y', 52).attr('width', 13).attr('height', 13).attr('fill', '#eef3f6');
  g.append('path').attr('d', 'M1869,62l6,-7l2,2l-6,7z').attr('fill', '#2aa8c8');
  g.append('rect').attr('x', 1885).attr('y', 52).attr('width', 12).attr('height', 13).attr('fill', '#dfe6e6');
  g.append('path').attr('d', 'M1887,62a4,6 0 0 1 8,0z').attr('fill', '#3a8a9a');
  txt(g, 1909, 58, '+', {anchor: 'middle', size: 16, fill: '#2aa8c8'});
  rule(g, 1360, 1920, 65, 65, '#ddd', '', 1.5);
  g.append('rect').attr('x', 1636).attr('y', 66).attr('width', 3).attr('height', 833).attr('fill', '#eeeeee');
}

function drawBook() {
  var g = svg.append('g');
  var X1 = 1365, X2 = 1499, VAL1 = 1492, VALR = 1629;
  txt(g, X1, 78, '委比', {fill: LABEL});
  txt(g, VAL1, 78, '56.42%', {anchor: 'end', fill: TEXT_RED});
  txt(g, X2, 78, '委差', {fill: LABEL});
  txt(g, VALR, 78, '9631', {anchor: 'end', fill: TEXT_RED});
  rule(g, 1360, 1635, 86, 86);

  column(g, askLabels, X1, 98, 19, {fill: LABEL});
  column(g, askPrices, 1522.5, 98, 19, {anchor: 'end', fill: TEXT_RED});
  column(g, askVols, VALR, 98, 19, {anchor: 'end', fill: VALUE});
  rule(g, 1360, 1635, 184, 184, '#ddd');
  column(g, bidLabels, X1, 195, 19, {fill: LABEL});
  column(g, bidPrices, 1522.5, 195, 19, {anchor: 'end', fill: TEXT_RED});
  column(g, bidVols, VALR, 195, 19, {anchor: 'end', fill: VALUE});
  rule(g, 1360, 1635, 286, 286);

  column(g, tradeLeftLabels, X1, 298, 20, {fill: LABEL});
  column(g, tradeLeftValues, 1491.5, 298, 20, {anchor: 'end', fill: function(v, i) {
    return i === 2 || i === 4 || i === 5 || i === 6 ? TEXT_RED : VALUE;
  }});
  column(g, tradeRightLabels, X2, 298, 20, {fill: LABEL});
  column(g, tradeRightValues, VALR, 298, 20, {anchor: 'end', fill: function(v, i) {
    if (i === 2 || i === 5 || i === 6) return TEXT_GREEN;
    return i === 4 ? TEXT_RED : VALUE;
  }});
  rule(g, 1360, 1635, 446.7, 446.7);

  valLabels.forEach(function(l, i) {
    var t = txt(g, X1, 458 + i * 20, l, {fill: LABEL});
    t.append('tspan').attr('dx', 1).attr('dy', -4).attr('font-size', 8).text(valSups[i]);
  });
  column(g, valValues, VAL1, 458, 20, {anchor: 'end', fill: VALUE});
  capLabels.forEach(function(l, i) {
    var yy = 458 + i * 20;
    var t = txt(g, X2, yy, l, {fill: LABEL});
    if (capSups[i]) {
      t.append('tspan').attr('dx', 1).attr('dy', -4).attr('font-size', 8).text(capSups[i]);
      g.append('circle').attr('cx', 1552).attr('cy', yy).attr('r', 5).attr('fill', 'none').attr('stroke', '#aaa').attr('stroke-dasharray', '2,1');
      txt(g, 1552, yy, '¥', {anchor: 'middle', size: 7, fill: '#aaa'});
    }
  });
  column(g, capValues, VALR, 458, 20, {anchor: 'end', fill: VALUE});
  rule(g, 1360, 1635, 566.7, 566.7, '#ddd');

  column(g, tickTimesA, 1364, 579.7, 20, {fill: LABEL});
  column(g, tickTimesA.map(function() { return tickPrice; }), 1524, 579.7, 20, {anchor: 'end', fill: TEXT_RED});
  column(g, tickVolsA, 1630, 579.7, 20, {anchor: 'end', fill: TEXT_RED});
  rule(g, 1363, 1632, 689.5, 689.5, '#eee');
  column(g, tickTimesB, 1364, 700.7, 19.95, {fill: LABEL});
  column(g, tickTimesB.map(function() { return tickPrice; }), 1524, 700.7, 19.95, {anchor: 'end', fill: TEXT_RED});
  column(g, tickVolsB, 1630, 700.7, 19.95, {anchor: 'end', fill: TEXT_RED});
}

function drawFundamentals() {
  var g = svg.append('g');
  var X1 = 1646, R1 = 1763, R2 = 1837.5, R3 = 1913.6;
  txt(g, 1641, 79, 'Wind', {fill: LABEL});
  txt(g, 1680, 79, 'ESG评级', {fill: LABEL});
  txt(g, 1749, 78, 'AA', {size: 15, weight: 'bold', fill: '#222'});
  txt(g, 1909, 77, '详情', {anchor: 'end', size: 14, fill: '#3aa0dd'});
  rule(g, 1639, 1920, 86, 86);

  column(g, retLabels, X1, 98, 20, {fill: LABEL});
  column(g, retValues, 1773, 98, 20, {anchor: 'end', fill: signColor});
  column(g, ret2Labels, 1781, 98, 20, {fill: LABEL});
  column(g, ret2Values, R3, 98, 20, {anchor: 'end', fill: function(v, i) { return i < 2 ? TEXT_RED : VALUE; }});
  rule(g, 1639, 1920, 166, 166);

  finYears.forEach(function(y, i) {
    txt(g, [R1, R2, R3][i], 177, y, {anchor: 'end', weight: 'bold', fill: '#333'});
  });
  column(g, finLabels, X1, 197, 20, {fill: LABEL});
  column(g, fin2024, R1, 197, 20, {anchor: 'end'});
  column(g, fin2025, R2, 197, 20, {anchor: 'end'});
  column(g, fin2026, R3, 197, 20, {anchor: 'end'});
  rule(g, 1639, 1920, 326.7, 326.7);

  g.append('rect').attr('x', 1639).attr('y', 327).attr('width', 53).attr('height', 20).attr('fill', '#e0e0e0');
  txt(g, 1665, 337, '净利润', {anchor: 'middle', fill: '#222'});
  txt(g, 1698.6, 337, '营业总收入', {fill: '#333'});
  txt(g, 1903, 336, '•••', {anchor: 'middle', size: 10, fill: '#333'});

  drawProfitBars(g);

  txt(g, X1, 503, '(CNY)', {fill: LABEL});
  fcYears.forEach(function(y, i) {
    txt(g, [1762, 1838, 1913.6][i], 503, y, {anchor: 'end', weight: 'bold', fill: i === 0 ? '#1a80bf' : '#4e9b9c'});
  });
  column(g, fcLabels, X1, 523, 20, {fill: LABEL});
  [fc2025, fc2026, fc2027].forEach(function(fc, c) {
    column(g, fc, [1762, 1838, 1913.6][c], 523, 20, {anchor: 'end', fill: function(v, i) {
      return i === 1 || i === 3 ? signColor(v) : VALUE;
    }});
  });
  rule(g, 1639, 1920, 612, 612);

  txt(g, X1, 623, '财报披露', {weight: 'bold', fill: '#333'});
  txt(g, R3, 623, '2026-08-27', {anchor: 'end'});
  column(g, reportLabels, X1, 643, 20, {fill: LABEL});
  column(g, reportValues, R3, 643, 20, {anchor: 'end', fill: function(v, i) {
    return i === 2 || i === 3 ? TEXT_RED : VALUE;
  }});
  rule(g, 1639, 1920, 732, 732);

  txt(g, X1, 743, '分红', {weight: 'bold', fill: '#333'});
  txt(g, 1903, 743, '•••', {anchor: 'middle', size: 10, fill: '#333'});
  column(g, divDates, X1, 763, 20, {fill: LABEL});
  column(g, divValues, R3, 763, 20, {anchor: 'end', fill: VALUE});
  rule(g, 1639, 1920, 813, 813);

  var tagX = [1726, 1801, 1850];
  var tagX2 = [1726, 1788, 1837.5];
  column(g, industryLabels, X1, 825, 20, {weight: 'bold', fill: '#333'});
  industryTags.forEach(function(tags, r) {
    tags.forEach(function(t, c) {
      txt(g, (r === 2 ? tagX2 : tagX)[c], 825 + r * 20, t, {fill: VALUE});
    });
  });

  g.append('rect').attr('x', 1639).attr('y', 873).attr('width', 281).attr('height', 26).attr('fill', '#f2f2f2');
  g.append('rect').attr('x', 1640).attr('y', 873).attr('width', 43).attr('height', 26).attr('fill', '#d8d8d8');
  [1661, 1705, 1749].forEach(function(c, i) {
    txt(g, c, 886, infoTabs[i], {anchor: 'middle', fill: '#333'});
  });
}

function drawProfitBars(g) {
  var xb = d3.scaleBand().domain(profitCats).range([1691, 1906.8]).paddingInner(0.343).paddingOuter(0.11);
  var yb = d3.scaleLinear().domain([0, 88]).range([471, 365]);
  profitTicks.forEach(function(t) {
    txt(g, 1687, yb(t) + 1, t === 0 ? '0.00' : t.toFixed(1) + '亿', {anchor: 'end', size: 13, fill: '#a0a0a0'});
  });
  rule(g, 1689.5, 1689.5, 362, 471, '#ccc', '1,2');
  rule(g, 1689.5, 1905, 471.5, 471.5, '#bbb', '1,2');

  var stack = d3.stack().keys(['q1','q2','q3','q4'])(profitCats.map(function(c, i) {
    return {cat: c, q1: profitQ1[i], q2: profitQ2[i], q3: profitQ3[i], q4: profitQ4[i]};
  }));
  var blues = ['#005c9e','#1a80bf','#4ab0ec','#75d5f7'];
  var oranges = ['#a04a00','#c8701a'];
  stack.forEach(function(layer, k) {
    g.selectAll('rect.s' + k).data(layer).enter().append('rect')
      .attr('class', 's' + k)
      .attr('x', function(d) { return xb(d.data.cat); })
      .attr('width', xb.bandwidth())
      .attr('y', function(d) { return yb(d[1]); })
      .attr('height', function(d) { return yb(d[0]) - yb(d[1]); })
      .attr('fill', function(d) {
        if (/E$/.test(d.data.cat)) return '#4e9b9c';
        return d.data.cat === '26H1' ? oranges[k] || '#c8701a' : blues[k];
      });
  });
  profitCats.forEach(function(c) {
    txt(g, xb(c) + xb.bandwidth() / 2, 480.7, c, {anchor: 'middle', size: 12, fill: '#a0a0a0'});
  });
}

drawFrame();
drawGrid();
drawMain();
drawChips();
drawBoll();
drawAmo();
drawBottomTabs();
drawTopBar();
drawSideBar();
drawQuotePanel();
drawBook();
drawFundamentals();
</script>
</body>
</html>
